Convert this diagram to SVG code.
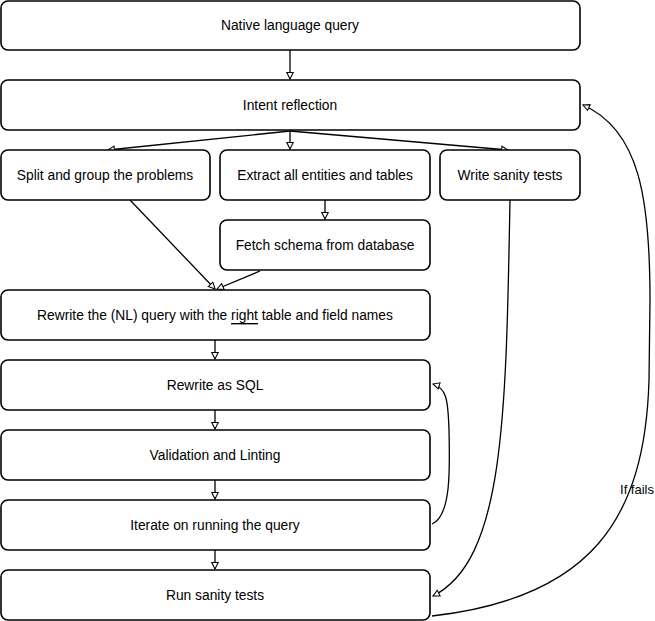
<svg xmlns="http://www.w3.org/2000/svg" width="655" height="621" viewBox="0 0 655 621">
<defs>
<marker id="arr" viewBox="0 0 10 10" refX="9" refY="5" markerWidth="8" markerHeight="8" markerUnits="userSpaceOnUse" orient="auto">
<path d="M1,1 L9,5 L1,9 Z" fill="#fff" stroke="#000" stroke-width="1.3"/>
</marker>
</defs>
<style>
.box{fill:#fff;stroke:#000;stroke-width:1.6}
.lbl{font-family:"Liberation Sans",Arial,sans-serif;font-size:13.8px;fill:#000;text-anchor:middle;dominant-baseline:central}
.con{fill:none;stroke:#000;stroke-width:1.3;marker-end:url(#arr)}
.elbl{font-family:"Liberation Sans",Arial,sans-serif;font-size:13px;fill:#000;text-anchor:middle;dominant-baseline:central}
</style>
<rect width="655" height="621" fill="#fff"/>

<g id="connectors">
<path id="c1" class="con" d="M290,50 L290,79"/>
<path id="c2" class="con" d="M290,131 L108,150"/>
<path id="c3" class="con" d="M290,131 L290,149"/>
<path id="c4" class="con" d="M290,131 L508,150"/>
<path id="c5" class="con" d="M325,200 L325,219"/>
<path id="c6" class="con" d="M130,200 L215,289"/>
<path id="c7" class="con" d="M260,271 L217,289"/>
<path id="c8" class="con" d="M215,340 L215,359"/>
<path id="c9" class="con" d="M215,410 L215,429"/>
<path id="c10" class="con" d="M215,480 L215,499"/>
<path id="c11" class="con" d="M215,550 L215,569"/>
<path id="c12" class="con" d="M432,524 C451,516 450,470 449,430 C448,398 446,388 433,384"/>
<path id="c13" class="con" d="M510,200 C506,420 504,560 433,596"/>
<path id="c14" class="con" d="M432,616 C590,598 645,520 649,380 L650,300 C650,200 640,130 583,105"/>
<text class="elbl" x="637" y="489">If fails</text>
</g>

<g id="n1"><rect class="box" x="1" y="1" width="579" height="49" rx="7"/><text class="lbl" x="290" y="25">Native language query</text></g>
<g id="n2"><rect class="box" x="1" y="80" width="579" height="50" rx="7"/><text class="lbl" x="290" y="105">Intent reflection</text></g>
<g id="n3"><rect class="box" x="1" y="150" width="209" height="50" rx="7"/><text class="lbl" x="105" y="175">Split and group the problems</text></g>
<g id="n4"><rect class="box" x="220" y="150" width="210" height="50" rx="7"/><text class="lbl" x="325" y="175">Extract all entities and tables</text></g>
<g id="n5"><rect class="box" x="440" y="150" width="140" height="50" rx="7"/><text class="lbl" x="510" y="175">Write sanity tests</text></g>
<g id="n6"><rect class="box" x="220" y="220" width="210" height="50" rx="7"/><text class="lbl" x="325" y="245">Fetch schema from database</text></g>
<g id="n7"><rect class="box" x="1" y="290" width="429" height="50" rx="7"/><text class="lbl" x="215" y="315">Rewrite the (NL) query with the <tspan text-decoration="underline">right</tspan> table and field names</text></g>
<g id="n8"><rect class="box" x="1" y="360" width="429" height="50" rx="7"/><text class="lbl" x="215" y="385">Rewrite as SQL</text></g>
<g id="n9"><rect class="box" x="1" y="430" width="429" height="50" rx="7"/><text class="lbl" x="215" y="455">Validation and Linting</text></g>
<g id="n10"><rect class="box" x="1" y="500" width="429" height="50" rx="7"/><text class="lbl" x="215" y="525">Iterate on running the query</text></g>
<g id="n11"><rect class="box" x="1" y="570" width="429" height="50" rx="7"/><text class="lbl" x="215" y="595">Run sanity tests</text></g>
</svg>
